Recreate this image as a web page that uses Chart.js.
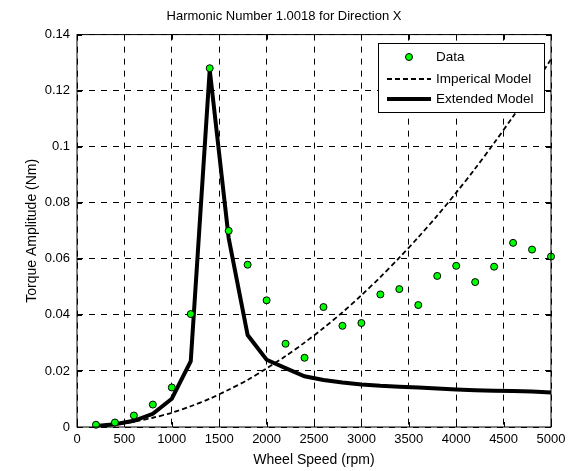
<!DOCTYPE html>
<html>
<head>
<meta charset="utf-8">
<script src="https://cdn.jsdelivr.net/npm/chart.js@4/dist/chart.umd.min.js"></script>
<style>
  html,body{margin:0;padding:0;background:#fff}
  #wrap{width:576px;height:471px}
</style>
</head>
<body>
<div id="wrap"><canvas id="c" width="576" height="471"></canvas></div>
<script>
// ---- data ----
const speeds = [200,400,600,800,1000,1200,1400,1600,1800,2000,2200,2400,2600,2800,3000,3200,3400,3600,3800,4000,4200,4400,4600,4800,5000];
const dataAmp = [0.0008,0.0016,0.0041,0.0080,0.0141,0.0403,0.1280,0.0700,0.0579,0.0452,0.0297,0.0247,0.0428,0.0361,0.0371,0.0473,0.0492,0.0435,0.0539,0.0575,0.0517,0.0572,0.0657,0.0633,0.0608];
const impericalAmp = [0.0002,0.0008,0.0019,0.0033,0.0051,0.0074,0.0101,0.0133,0.0168,0.0209,0.0253,0.0301,0.0353,0.0409,0.0470,0.0535,0.0604,0.0677,0.0754,0.0836,0.0922,0.1013,0.1108,0.1208,0.1312];
const extendedAmp = [0.0004,0.0010,0.0022,0.0047,0.0101,0.0235,0.1275,0.0674,0.0328,0.0240,0.0210,0.0181,0.0168,0.0159,0.0152,0.0147,0.0144,0.0141,0.0137,0.0134,0.0131,0.0129,0.0128,0.0127,0.0123];
const xTicks = [0,500,1000,1500,2000,2500,3000,3500,4000,4500,5000];
const yTicks = [0,0.02,0.04,0.06,0.08,0.1,0.12,0.14];

const FONT = '"Liberation Sans", Arial, Helvetica, sans-serif';
const GREEN = '#00ff00', INK = '#000';

const pts = arr => speeds.map((s,i)=>({x:s,y:arr[i]}));

// MATLAB style box + inward ticks + legend inside the axes
const frame = {
  id:'frame',
  afterDatasetsDraw(ch){
    const {ctx, chartArea:a, scales:{x,y}} = ch;
    ctx.save();
    ctx.setLineDash([]);
    ctx.strokeStyle = INK; ctx.lineWidth = 1;
    ctx.strokeRect(a.left, a.top, a.right-a.left, a.bottom-a.top);
    ctx.beginPath();
    xTicks.forEach(v=>{const p=Math.round(x.getPixelForValue(v))+.5;
      ctx.moveTo(p,a.bottom); ctx.lineTo(p,a.bottom-5);
      ctx.moveTo(p,a.top); ctx.lineTo(p,a.top+5);});
    yTicks.forEach(v=>{const p=Math.round(y.getPixelForValue(v))+.5;
      ctx.moveTo(a.left,p); ctx.lineTo(a.left+5,p);
      ctx.moveTo(a.right,p); ctx.lineTo(a.right-5,p);});
    ctx.stroke();

    const bx=378, by=43, bw=166, bh=69;
    ctx.fillStyle='#fff'; ctx.fillRect(bx,by,bw,bh);
    ctx.strokeRect(bx+.5,by+.5,bw,bh);
    const ds = ch.data.datasets;
    ctx.font = '13.5px '+FONT; ctx.textBaseline='middle'; ctx.textAlign='left';
    const rows=[57,79,99];
    ctx.beginPath(); ctx.arc(409,rows[0],3.5,0,Math.PI*2);
    ctx.fillStyle=GREEN; ctx.fill(); ctx.lineWidth=1; ctx.strokeStyle=INK; ctx.stroke();
    ctx.beginPath(); ctx.setLineDash([5,3]); ctx.lineWidth=1.8;
    ctx.moveTo(387,rows[1]); ctx.lineTo(431,rows[1]); ctx.stroke();
    ctx.beginPath(); ctx.setLineDash([]); ctx.lineWidth=4;
    ctx.moveTo(387,rows[2]); ctx.lineTo(431,rows[2]); ctx.stroke();
    ctx.fillStyle=INK;
    ds.forEach((d,i)=>ctx.fillText(d.label,436,rows[i]));
    ctx.restore();
  }
};

new Chart(document.getElementById('c'), {
  type:'line',
  data:{datasets:[
    {label:'Data', data:pts(dataAmp), showLine:false, pointRadius:3.5, pointBackgroundColor:GREEN,
     pointBorderColor:INK, pointBorderWidth:1, clip:false},
    {label:'Imperical Model', data:pts(impericalAmp), borderColor:INK, borderWidth:1.8,
     borderDash:[5,3], pointRadius:0, tension:0.3, fill:false},
    {label:'Extended Model', data:pts(extendedAmp), borderColor:INK, borderWidth:4,
     pointRadius:0, tension:0, fill:false, borderJoinStyle:'miter'}
  ]},
  options:{
    responsive:false, animation:false, devicePixelRatio:1,
    layout:{padding:{left:0,right:8,top:0,bottom:0}},
    plugins:{
      legend:{display:false}, tooltip:{enabled:false},
      title:{display:true, text:'Harmonic Number 1.0018 for Direction X', color:INK,
        font:{family:FONT,size:13,weight:'normal'}, padding:{top:9,bottom:10}}
    },
    scales:{
      x:{type:'linear', min:0, max:5000,
        afterBuildTicks:s=>{s.ticks=xTicks.map(v=>({value:v}));},
        afterFit:s=>{s.height=44;},
        ticks:{color:INK, font:{family:FONT,size:13}, padding:5, maxRotation:0, callback:v=>String(v)},
        grid:{color:INK, lineWidth:1, drawTicks:false},
        border:{display:false, dash:[6,6]},
        title:{display:true, text:'Wheel Speed (rpm)', color:INK, font:{family:FONT,size:14}, padding:{top:0,bottom:2}}
      },
      y:{type:'linear', min:0, max:0.14,
        afterBuildTicks:s=>{s.ticks=yTicks.map(v=>({value:v}));},
        afterFit:s=>{s.width=77;},
        ticks:{color:INK, font:{family:FONT,size:13}, padding:7, callback:v=>String(+v.toFixed(2))},
        grid:{color:INK, lineWidth:1, drawTicks:false},
        border:{display:false, dash:[6,6]},
        title:{display:true, text:'Torque Amplitude (Nm)', color:INK, font:{family:FONT,size:14}, padding:{top:24,bottom:0}}
      },
      // empty right gutter so the chart area ends where the reference does
      yr:{position:'right', display:true, afterFit:s=>{s.width=17;},
        ticks:{display:false}, grid:{display:false}, border:{display:false}}
    }
  },
  plugins:[frame]
});
</script>
</body>
</html>
